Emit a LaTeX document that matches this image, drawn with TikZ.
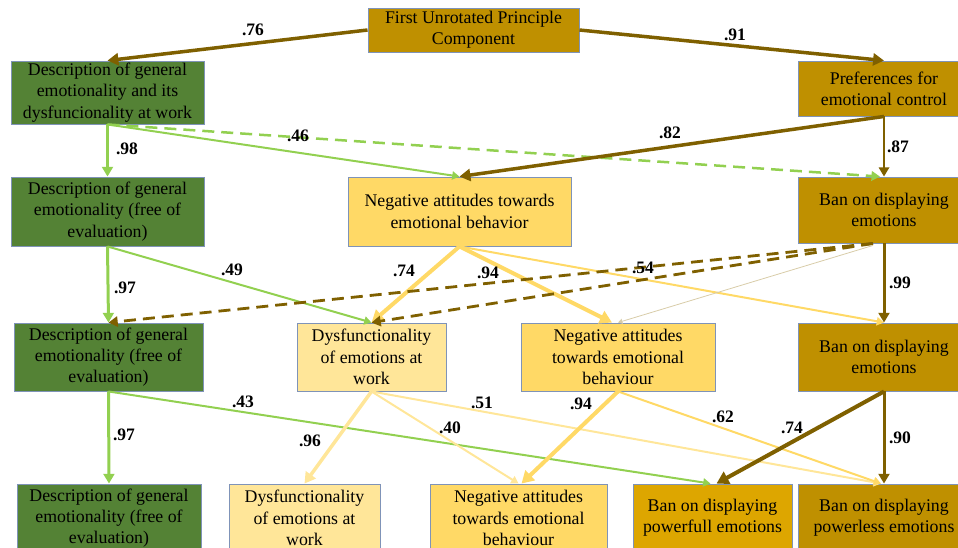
\documentclass[tikz,border=0pt]{standalone}
\usepackage{fontspec}
\setmainfont{Liberation Serif}
\usetikzlibrary{arrows.meta,calc}
\definecolor{dgold}{HTML}{BF9000}
\definecolor{mgold}{HTML}{DDA600}
\definecolor{dgreen}{HTML}{548235}
\definecolor{ygold}{HTML}{FFD966}
\definecolor{lgold}{HTML}{FFE699}
\definecolor{brd}{HTML}{7F93B8}
\definecolor{brownc}{HTML}{7F6000}
\definecolor{lgreen}{HTML}{92D050}
\definecolor{tanc}{HTML}{D8CCA8}
\tikzset{
  box/.style={draw=brd, line width=0.9pt, inner sep=0pt, align=center,
    font=\fontsize{17.8}{21.3}\selectfont, text=black},
  conn/.style={-{Triangle[length=2.5pt 2.4, width=3pt 2.6]}},
  lab/.style={font=\fontsize{17.5}{20}\selectfont\bfseries, inner sep=0pt},
  dsh/.style={dash pattern=on 12pt off 7pt},
}
\begin{document}
\begin{tikzpicture}[x=1pt,y=-1pt]
\useasboundingbox (0,0) rectangle (958,547);
\clip (0,0) rectangle (958,547);
% boxes
\node[box, fill=dgold, minimum width=211pt, minimum height=44pt] (top) at (473.5,30) {First Unrotated Principle\\Component};
\node[box, fill=dgreen, minimum width=193pt, minimum height=63pt] (L1) at (107.5,92.5) {Description of general\\emotionality and its\\dysfuncionality at work};
\node[box, fill=dgold, minimum width=172pt, minimum height=55pt] (R1) at (884,88.5) {Preferences for\\emotional control};
\node[box, fill=dgreen, minimum width=193pt, minimum height=69pt] (L2) at (107.5,211.5) {Description of general\\emotionality (free of\\evaluation)};
\node[box, fill=ygold, minimum width=223pt, minimum height=69pt] (M2) at (459.5,211.5) {Negative attitudes towards\\emotional behavior};
\node[box, fill=dgold, minimum width=172pt, minimum height=66pt] (R2) at (884,210) {Ban on displaying\\emotions};
\node[box, fill=dgreen, minimum width=189pt, minimum height=68pt] (L3) at (108.5,357) {Description of general\\emotionality (free of\\evaluation)};
\node[box, fill=lgold, minimum width=149pt, minimum height=68pt] (M3a) at (371.5,357) {Dysfunctionality\\of emotions at\\work};
\node[box, fill=ygold, minimum width=194pt, minimum height=68pt] (M3b) at (618,357) {Negative attitudes\\towards emotional\\behaviour};
\node[box, fill=dgold, minimum width=172pt, minimum height=68pt] (R3) at (884,357) {Ban on displaying\\emotions};
\node[box, fill=dgreen, minimum width=184pt, minimum height=68pt] (B1) at (109,518) {Description of general\\emotionality (free of\\evaluation)};
\node[box, fill=lgold, minimum width=151pt, minimum height=68pt] (B2) at (304.5,518) {Dysfunctionality\\of emotions at\\work};
\node[box, fill=ygold, minimum width=177pt, minimum height=68pt] (B3) at (518.5,518) {Negative attitudes\\towards emotional\\behaviour};
\node[box, fill=mgold, minimum width=159pt, minimum height=68pt] (B4) at (712.5,518) {Ban on displaying\\powerfull emotions};
\node[box, fill=dgold, minimum width=172pt, minimum height=68pt] (B5) at (884,518) {Ban on displaying\\powerless emotions};
% connectors
\draw[conn, brownc, line width=3.5pt] (top.west) -- (L1.north);
\draw[conn, brownc, line width=3.5pt] (top.east) -- (R1.north);
\draw[conn, lgreen, line width=3pt] (L1.south) -- (L2.north);
\draw[conn, lgreen, line width=2pt] (L1.south) -- (M2.north);
\draw[conn, lgreen, line width=2.5pt, dsh] (L1.south) -- ($(R2.north)+(-4,0)$);
\draw[conn, brownc, line width=3.5pt] (R1.south) -- (M2.north);
\draw[conn, brownc, line width=2.8pt] (R1.south) -- (R2.north);
\draw[conn, lgreen, line width=3pt] (L2.south) -- (L3.north);
\draw[conn, lgreen, line width=2pt] (L2.south) -- (M3a.north);
\draw[conn, ygold, line width=4pt] (M2.south) -- (M3a.north);
\draw[conn, ygold, line width=4pt] (M2.south) -- ($(M3b.north)+(-6,0)$);
\draw[conn, ygold, line width=2pt] (M2.south) -- (R3.north);
\draw[conn, brownc, line width=2.8pt, dsh] ($(R2.south)+(-11,0)$) -- (L3.north);
\draw[conn, brownc, line width=2.8pt, dsh] ($(R2.south)+(-11,0)$) -- (M3a.north);
\draw[conn, tanc, line width=0.8pt] ($(R2.south)+(-11,2)$) -- (M3b.north);
\draw[conn, brownc, line width=3pt] (R2.south) -- (R3.north);
\draw[conn, lgreen, line width=3pt] (L3.south) -- (B1.north);
\draw[conn, lgreen, line width=2pt] (L3.south) -- ($(B4.north)+(-2,0)$);
\draw[conn, lgold, line width=3.5pt] (M3a.south) -- (B2.north);
\draw[conn, lgold, line width=2pt] (M3a.south) -- (B3.north);
\draw[conn, lgold, line width=2pt] (M3a.south) -- ($(B5.north)+(-3,0)$);
\draw[conn, ygold, line width=4pt] (M3b.south) -- ($(B3.north)+(3,0)$);
\draw[conn, ygold, line width=2pt] (M3b.south) -- ($(B5.north)+(-3,0)$);
\draw[conn, brownc, line width=4pt] (R3.south) -- ($(B4.north)+(4,0)$);
\draw[conn, brownc, line width=3pt] (R3.south) -- (B5.north);
% labels
\node[lab] (l76) at (253,30) {.76};
\node[lab] (l91) at (735,35) {.91};
\node[lab] (l98) at (127,149) {.98};
\node[lab] (l46) at (298,136) {.46};
\node[lab] (l82) at (670,133) {.82};
\node[lab] (l87) at (898,147) {.87};
\node[lab] (l97a) at (125,288) {.97};
\node[lab] (l49) at (232,270) {.49};
\node[lab] (l74a) at (404,271) {.74};
\node[lab] (l94a) at (488,273) {.94};
\node[lab] (l54) at (643,268) {.54};
\node[lab] (l99) at (900,283) {.99};
\node[lab] (l97b) at (124,435) {.97};
\node[lab] (l43) at (243,402) {.43};
\node[lab] (l96) at (310,441) {.96};
\node[lab] (l40) at (450,428) {.40};
\node[lab] (l51) at (482,403) {.51};
\node[lab] (l94b) at (581,404) {.94};
\node[lab] (l62) at (723,417) {.62};
\node[lab] (l74b) at (792,428) {.74};
\node[lab] (l90) at (900,438) {.90};
\end{tikzpicture}
\end{document}
